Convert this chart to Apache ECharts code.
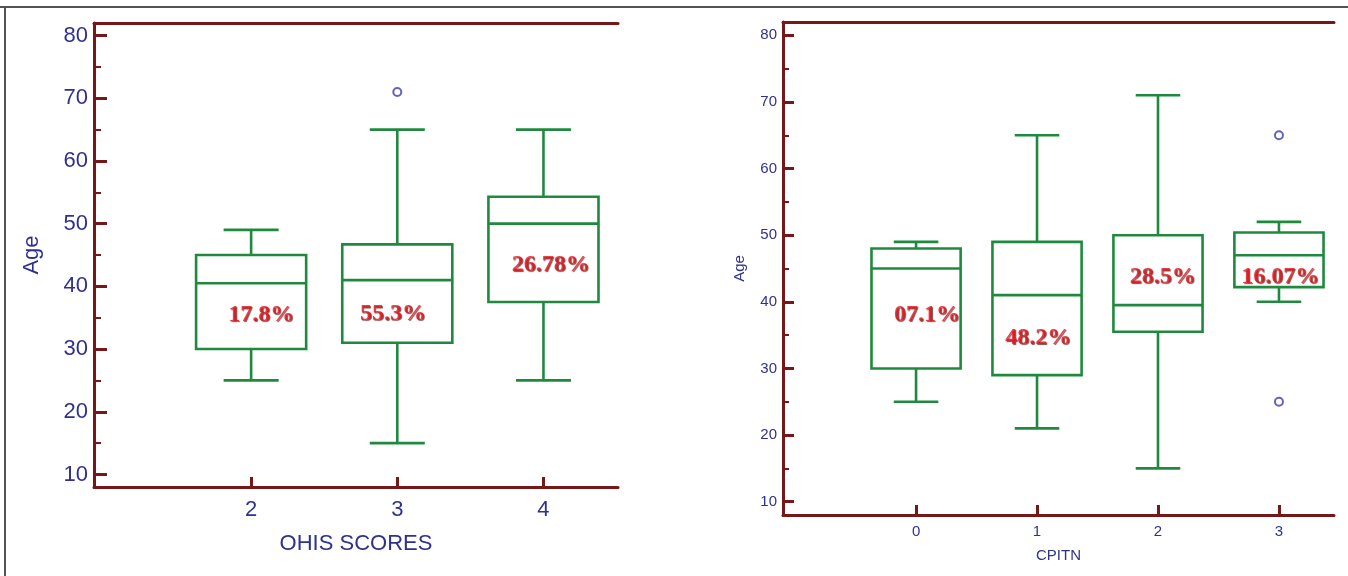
<!DOCTYPE html>
<html>
<head>
<meta charset="utf-8">
<script src="https://cdn.jsdelivr.net/npm/echarts@6/dist/echarts.min.js"></script>
<style>
html, body { margin: 0; padding: 0; background: #fff; }
#main { width: 1348px; height: 576px; }
</style>
</head>
<body>
<div id="main"></div>
<script>
// left panel - OHIS scores
var ohisCats = [2, 3, 4];
// [min, Q1, median, Q3, max]
var ohisBoxes = [
	[25, 30, 40.5, 45, 49],
	[15, 31, 41, 46.7, 65],
	[25, 37.5, 50, 54.3, 65]
];
var ohisOutliers = [[3, 71]];
var ohisPct = ['17.8%', '55.3%', '26.78%'];
var ohisPctAt = [[2.07, 35.4], [2.97, 35.6], [4.05, 43.5]];

// right panel - CPITN
var cpitnCats = [0, 1, 2, 3];
var cpitnBoxes = [
	[25, 30, 45, 48, 49],
	[21, 29, 41, 49, 65],
	[15, 35.5, 39.5, 50, 71],
	[40, 42.2, 47, 50.4, 52]
];
var cpitnOutliers = [[3, 65], [3, 25]];
var cpitnPct = ['07.1%', '48.2%', '28.5%', '16.07%'];
var cpitnPctAt = [[0.09, 38.0], [1.01, 34.6], [2.04, 43.8], [3.01, 43.7]];

var maroon = '#761818';
var navy = '#2f3190';
var green = '#1f8a3e';
var sans = '"Liberation Sans", Arial, sans-serif';

var chart = echarts.init(document.getElementById('main'));

function seg(x1, y1, x2, y2) {
	return {
		type: 'line',
		shape: { x1: x1, y1: y1, x2: x2, y2: y2 },
		style: { stroke: green, lineWidth: 2.6 }
	};
}

// box + whiskers, caps are half the box width
boxItem = (boxW) => {
	return function(params, api) {
		var x = api.value(0);
		var pMin = api.coord([x, api.value(1)]);
		var pQ1 = api.coord([x, api.value(2)]);
		var pMed = api.coord([x, api.value(3)]);
		var pQ3 = api.coord([x, api.value(4)]);
		var pMax = api.coord([x, api.value(5)]);
		var w = api.size([boxW, 0])[0];
		var cx = pMed[0];
		return {
			type: 'group',
			children: [
				{
					type: 'rect',
					shape: { x: cx - w / 2, y: pQ3[1], width: w, height: pQ1[1] - pQ3[1] },
					style: { stroke: green, lineWidth: 2.6, fill: 'none' }
				},
				seg(cx - w / 2, pMed[1], cx + w / 2, pMed[1]),
				seg(cx, pQ3[1], cx, pMax[1]),
				seg(cx, pQ1[1], cx, pMin[1]),
				seg(cx - w / 4, pMax[1], cx + w / 4, pMax[1]),
				seg(cx - w / 4, pMin[1], cx + w / 4, pMin[1])
			]
		};
	};
}

function boxRows(cats, boxes) {
	return cats.map(function(c, i) {
		return [c].concat(boxes[i]);
	});
}

function pctRows(texts, at) {
	return texts.map(function(t, i) {
		return { name: t, value: at[i] };
	});
}

function xAxisBottom(grid, cats, min, max, fs, name, nameGap, tickLen, margin) {
	return {
		type: 'value',
		gridIndex: grid,
		position: 'bottom',
		min: min,
		max: max,
		name: name,
		nameLocation: 'middle',
		nameGap: nameGap,
		nameTextStyle: { color: navy, fontSize: fs, fontFamily: sans },
		axisLine: { show: true, onZero: false, lineStyle: { color: maroon, width: 3 } },
		axisTick: { show: true, inside: true, length: tickLen, customValues: cats, lineStyle: { color: maroon, width: 3 } },
		axisLabel: { color: navy, fontSize: fs, fontFamily: sans, margin: margin, customValues: cats },
		splitLine: { show: false }
	};
}

function xAxisTop(grid, min, max) {
	return {
		type: 'value',
		gridIndex: grid,
		position: 'top',
		min: min,
		max: max,
		axisLine: { show: true, onZero: false, lineStyle: { color: maroon, width: 3 } },
		axisTick: { show: false },
		axisLabel: { show: false },
		splitLine: { show: false }
	};
}

function yAxisAge(grid, fs, nameGap, tickLen, minorLen) {
	return {
		type: 'value',
		gridIndex: grid,
		position: 'left',
		min: 8,
		max: 82,
		splitNumber: 7,
		name: 'Age',
		nameLocation: 'middle',
		nameGap: nameGap,
		nameTextStyle: { color: navy, fontSize: fs, fontFamily: sans },
		axisLine: { show: true, onZero: false, lineStyle: { color: maroon, width: 3 } },
		axisTick: { show: true, inside: true, length: tickLen, lineStyle: { color: maroon, width: 3 } },
		minorTick: { show: true, splitNumber: 2, length: minorLen, lineStyle: { color: maroon, width: 2 } },
		axisLabel: { color: navy, fontSize: fs, fontFamily: sans, margin: 6, showMinLabel: false, showMaxLabel: false },
		splitLine: { show: false }
	};
}

var pctLabel = {
	show: true,
	position: 'inside',
	formatter: '{b}',
	color: '#e8141b',
	fontSize: 24,
	fontWeight: 'bold',
	fontFamily: '"Liberation Serif", "Times New Roman", serif',
	textShadowColor: 'rgba(60,0,0,0.85)',
	textShadowBlur: 1,
	textShadowOffsetX: 1,
	textShadowOffsetY: 1
};

var option = {
	animation: false,
	backgroundColor: '#fff',
	graphic: [
		{ type: 'line', shape: { x1: 0, y1: 7, x2: 1348, y2: 7 }, style: { stroke: '#555', lineWidth: 2 } },
		{ type: 'line', shape: { x1: 5, y1: 7, x2: 5, y2: 576 }, style: { stroke: '#555', lineWidth: 2 } }
	],
	grid: [
		{ left: 94, top: 23, width: 524, height: 464 },
		{ left: 783, top: 22, width: 551, height: 493 }
	],
	xAxis: [
		xAxisBottom(0, ohisCats, 0.925, 4.51, 22, 'OHIS SCORES', 46, 10, 12),
		xAxisBottom(1, cpitnCats, -1.1, 3.455, 15, 'CPITN', 33, 10, 9),
		xAxisTop(0, 0.925, 4.51),
		xAxisTop(1, -1.1, 3.455)
	],
	yAxis: [
		yAxisAge(0, 22, 51, 13, 7),
		yAxisAge(1, 15, 36, 11, 6)
	],
	series: [
		{
			type: 'custom',
			xAxisIndex: 0,
			yAxisIndex: 0,
			renderItem: boxItem(0.753),
			encode: { x: 0, y: [1, 2, 3, 4, 5] },
			data: boxRows(ohisCats, ohisBoxes)
		},
		{
			type: 'scatter',
			xAxisIndex: 0,
			yAxisIndex: 0,
			symbol: 'emptyCircle',
			symbolSize: 8,
			itemStyle: { color: '#3c3cb4', borderWidth: 1.3 },
			data: ohisOutliers
		},
		{
			type: 'scatter',
			xAxisIndex: 0,
			yAxisIndex: 0,
			symbolSize: 0,
			label: pctLabel,
			z: 5,
			data: pctRows(ohisPct, ohisPctAt)
		},
		{
			type: 'custom',
			xAxisIndex: 1,
			yAxisIndex: 1,
			renderItem: boxItem(0.737),
			encode: { x: 0, y: [1, 2, 3, 4, 5] },
			data: boxRows(cpitnCats, cpitnBoxes)
		},
		{
			type: 'scatter',
			xAxisIndex: 1,
			yAxisIndex: 1,
			symbol: 'emptyCircle',
			symbolSize: 8,
			itemStyle: { color: '#3c3cb4', borderWidth: 1.3 },
			data: cpitnOutliers
		},
		{
			type: 'scatter',
			xAxisIndex: 1,
			yAxisIndex: 1,
			symbolSize: 0,
			label: pctLabel,
			z: 5,
			data: pctRows(cpitnPct, cpitnPctAt)
		}
	]
};

chart.setOption(option);
</script>
</body>
</html>
